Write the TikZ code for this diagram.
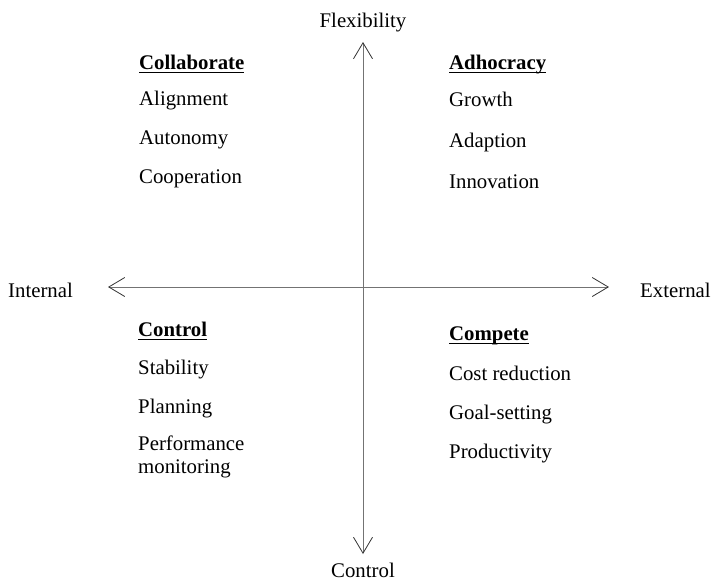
\documentclass[tikz,border=0pt]{standalone}
\usepackage{fontspec}
\setmainfont{Liberation Serif}
\usetikzlibrary{arrows.meta}
\definecolor{axisgray}{rgb}{0.45,0.45,0.45}
\newcommand{\headline}[1]{\setbox0\hbox{\bfseries #1}\rlap{\rule[-4.4pt]{\wd0}{1.6pt}}\box0}

\begin{document}
\begin{tikzpicture}[x=1pt, y=-1pt, font=\fontsize{20.8}{23}\selectfont,
  item/.style={anchor=base west, inner sep=0pt},
  label/.style={anchor=base, inner sep=0pt},
  axis/.style={draw=axisgray, line width=0.8pt, <->,
    >={Straight Barb[length=16pt, width=19pt, line width=0.8pt, color=black!80]}}]
\useasboundingbox (0,0) rectangle (713,587);

% axes
\coordinate (top) at (363,42);
\coordinate (bottom) at (363,554);
\coordinate (left) at (108,287);
\coordinate (right) at (609,287);
\draw[axis] (top) -- (bottom);
\draw[axis] (left) -- (right);

\node[label] (flex) at (363,27) {Flexibility};
\node[label] (ctrl) at (363,577) {Control};
\node[item] (int) at (8,297) {Internal};
\node[item] (ext) at (640,297) {External};

% upper left
\begin{scope}[shift={(139,0)}]
  \node[item] (collab) at (0,69) {\headline{Collaborate}};
  \node[item] (align) at (0,105) {Alignment};
  \node[item] (auto) at (0,144) {Autonomy};
  \node[item] (coop) at (0,183) {Cooperation};
\end{scope}

% upper right
\begin{scope}[shift={(449,0)}]
  \node[item] (adhoc) at (0,69) {\headline{Adhocracy}};
  \node[item] (growth) at (0,106) {Growth};
  \node[item] (adapt) at (0,147) {Adaption};
  \node[item] (innov) at (0,188) {Innovation};
\end{scope}

% lower left
\begin{scope}[shift={(138,0)}]
  \node[item] (control) at (0,336) {\headline{Control}};
  \node[item] (stab) at (0,374) {Stability};
  \node[item] (plan) at (0,413) {Planning};
  \node[item, align=left] (perf) at (0,473) {Performance\\monitoring};
\end{scope}

% lower right
\begin{scope}[shift={(449,0)}]
  \node[item] (compete) at (0,340) {\headline{Compete}};
  \node[item] (cost) at (0,380) {Cost reduction};
  \node[item] (goal) at (0,419) {Goal-setting};
  \node[item] (prod) at (0,458) {Productivity};
\end{scope}

\end{tikzpicture}
\end{document}
